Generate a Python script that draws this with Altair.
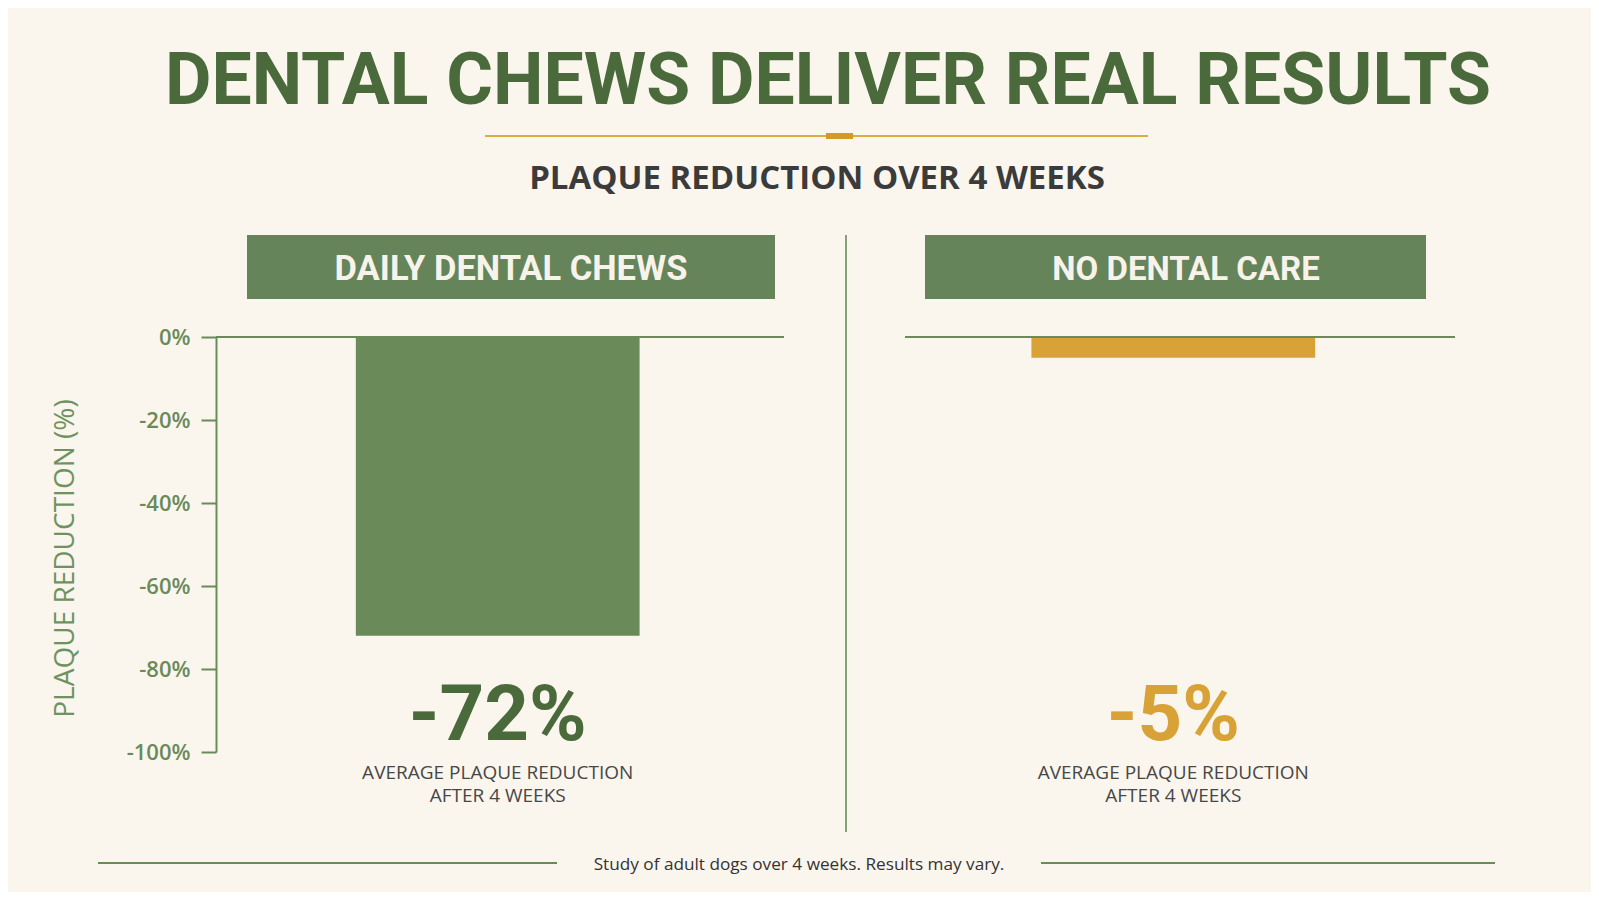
import altair as alt
import pandas as pd

# ---------------- data ----------------
categories = ["DAILY DENTAL CHEWS", "NO DENTAL CARE"]
reduction = [-72, -5]
caption_lines = ["AVERAGE PLAQUE REDUCTION", "AFTER 4 WEEKS"]
y_ticks = [0, -20, -40, -60, -80, -100]

TITLE = "DENTAL CHEWS DELIVER REAL RESULTS"
SUBTITLE = "PLAQUE REDUCTION OVER 4 WEEKS"
Y_TITLE = "PLAQUE REDUCTION (%)"
FOOTER = "Study of adult dogs over 4 weeks. Results may vary."

df = pd.DataFrame({"category": categories, "value": reduction})
one = pd.DataFrame({"k": [0]})

# ---------------- style ----------------
BG = "#faf6ee"
GREEN = "#6a8a5a"
HEADER = "#66845a"
DARK_GREEN = "#4b6a3b"
GOLD = "#d9a237"
AXIS = "#6b8a5a"
W, H = 1239, 415  # plot area: from y axis to end of right panel

xs = alt.Scale(domain=categories, paddingInner=0.58, paddingOuter=0.207)
X = alt.X("category:N", sort=categories, scale=xs, axis=None)
ys = alt.Scale(domain=[-100, 0], nice=False, zero=True)
yax = alt.Axis(
    values=y_ticks, labelExpr="datum.value + '%'", grid=False,
    domainColor=AXIS, domainWidth=2, tickColor=AXIS, tickWidth=2, tickSize=15,
    labelPadding=11, labelFont="Open Sans", labelFontSize=22, labelFontWeight=600,
    labelColor=AXIS, title=Y_TITLE, titleFont="Open Sans", titleFontSize=28,
    titleFontWeight="normal", titleColor="#6e9360", titleAngle=270,
    titleX=-151, titleY=221, titleAlign="center", titleBaseline="middle",
)
Y = alt.Y("value:Q", scale=ys, axis=yax)

bars = alt.Chart(df).mark_bar().encode(
    x=X, y=Y,
    color=alt.Color("category:N", scale=alt.Scale(domain=categories, range=[GREEN, GOLD]), legend=None),
)

numbers = alt.Chart(df).transform_calculate(
    label="toString(datum.value) + '%'"
).mark_text(
    font="Roboto", fontWeight="bold", fontSize=78, baseline="alphabetic"
).encode(
    x=X, y=alt.value(403), text="label:N",
    color=alt.condition(alt.datum.category == categories[0], alt.value(DARK_GREEN), alt.value(GOLD)),
)

captions = alt.Chart(df).mark_text(
    font="Open Sans", fontSize=19, baseline="alphabetic", lineHeight=23, color="#474747"
).encode(x=X, y=alt.value(442), text=alt.value(caption_lines))

zero_left = alt.Chart(one).mark_rule(color=AXIS, strokeWidth=2).encode(
    y=alt.YDatum(0, scale=ys, axis=yax), x=alt.value(0), x2=alt.value(568))
zero_right = alt.Chart(one).mark_rule(color=AXIS, strokeWidth=2).encode(
    y=alt.YDatum(0, scale=ys, axis=yax), x=alt.value(689), x2=alt.value(1239))

# header boxes
hdr_left = alt.Chart(df).transform_filter(alt.datum.category == categories[0]).mark_rect(color=HEADER).encode(
    x=alt.value(31), x2=alt.value(559), y=alt.value(-102), y2=alt.value(-38))
hdr_right = alt.Chart(df).transform_filter(alt.datum.category == categories[1]).mark_rect(color=HEADER).encode(
    x=alt.value(709), x2=alt.value(1210), y=alt.value(-102), y2=alt.value(-38))
hdr_txt_left = alt.Chart(df).transform_filter(alt.datum.category == categories[0]).mark_text(
    font="Roboto", fontWeight="bold", fontSize=34.5, color="#f7f3ea", baseline="alphabetic"
).encode(x=alt.value(295), y=alt.value(-57), text="category:N")
hdr_txt_right = alt.Chart(df).transform_filter(alt.datum.category == categories[1]).mark_text(
    font="Roboto", fontWeight="bold", fontSize=33, color="#f7f3ea", baseline="alphabetic"
).encode(x=alt.value(970), y=alt.value(-57), text="category:N")

# title block
title = alt.Chart(one).mark_text(
    font="Roboto", fontWeight="bold", fontSize=71.5, color=DARK_GREEN, baseline="alphabetic"
).encode(x=alt.value(612), y=alt.value(-233), text=alt.value(TITLE))
gold_line = alt.Chart(one).mark_rule(color="#d9ae45", strokeWidth=2).encode(
    x=alt.value(269), x2=alt.value(932), y=alt.value(-201))
gold_dot = alt.Chart(one).mark_rect(color="#d49a28").encode(
    x=alt.value(610), x2=alt.value(637), y=alt.value(-204), y2=alt.value(-198))
subtitle = alt.Chart(one).mark_text(
    font="Open Sans", fontWeight="bold", fontSize=33, color="#3b3b3b", baseline="alphabetic"
).encode(x=alt.value(601), y=alt.value(-148), text=alt.value(SUBTITLE))

divider = alt.Chart(one).mark_rule(color=AXIS, strokeWidth=1.6).encode(
    x=alt.value(630), y=alt.value(-102), y2=alt.value(495))

# footer
foot_l = alt.Chart(one).mark_rule(color=AXIS, strokeWidth=2).encode(
    x=alt.value(-118), x2=alt.value(341), y=alt.value(526))
foot_r = alt.Chart(one).mark_rule(color=AXIS, strokeWidth=2).encode(
    x=alt.value(825), x2=alt.value(1279), y=alt.value(526))
foot_txt = alt.Chart(one).mark_text(
    font="Open Sans", fontSize=17.2, color="#333333", baseline="alphabetic"
).encode(x=alt.value(583), y=alt.value(533), text=alt.value(FOOTER))

chart = alt.layer(
    hdr_left, hdr_right, hdr_txt_left, hdr_txt_right,
    bars, zero_left, zero_right, numbers, captions,
    title, gold_line, gold_dot, subtitle, divider,
    foot_l, foot_r, foot_txt,
).properties(
    width=W, height=H,
    autosize=alt.AutoSizeParams(type="none"),
    padding={"left": 208, "top": 329, "right": 136, "bottom": 140},
    background=BG,
).configure_view(stroke=None)

chart.save("out.html", embed_options={"renderer": "svg", "actions": False})
